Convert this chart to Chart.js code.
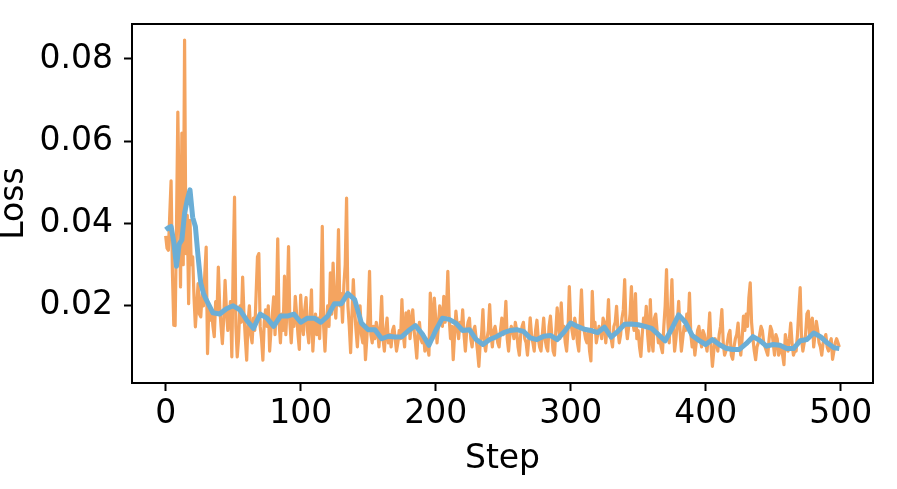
<!DOCTYPE html>
<html>
<head>
<meta charset="utf-8">
<script src="https://cdn.jsdelivr.net/npm/chart.js@4.4.1/dist/chart.umd.min.js"></script>
<style>
  html, body { margin: 0; padding: 0; background: #fff; }
  canvas { display: block; }
</style>
</head>
<body>
<canvas id="loss-chart" width="897" height="489"></canvas>
<script>
// raw loss, one value per step (0..499)
const rawLoss = [
  0.0370, 0.0340, 0.0335, 0.0420, 0.0504, 0.0280, 0.0153, 0.0152, 0.0390, 0.0671, 0.0450, 0.0246, 0.0620, 0.0300, 0.0846, 0.0327, 0.0420, 0.0205, 0.0408, 0.0300,
  0.0319, 0.0220, 0.0149, 0.0200, 0.0254, 0.0180, 0.0173, 0.0230, 0.0200, 0.0280, 0.0343, 0.0084, 0.0200, 0.0165, 0.0190, 0.0150, 0.0125, 0.0210, 0.0180, 0.0294,
  0.0200, 0.0150, 0.0108, 0.0170, 0.0262, 0.0190, 0.0140, 0.0175, 0.0210, 0.0076, 0.0300, 0.0464, 0.0150, 0.0076, 0.0120, 0.0200, 0.0160, 0.0270, 0.0180, 0.0120,
  0.0068, 0.0160, 0.0200, 0.0130, 0.0110, 0.0170, 0.0140, 0.0230, 0.0319, 0.0327, 0.0150, 0.0120, 0.0068, 0.0160, 0.0190, 0.0150, 0.0200, 0.0090, 0.0140, 0.0180,
  0.0222, 0.0130, 0.0200, 0.0363, 0.0160, 0.0110, 0.0180, 0.0140, 0.0272, 0.0130, 0.0200, 0.0344, 0.0160, 0.0110, 0.0170, 0.0150, 0.0223, 0.0180, 0.0130, 0.0094,
  0.0226, 0.0160, 0.0130, 0.0190, 0.0220, 0.0140, 0.0110, 0.0170, 0.0239, 0.0090, 0.0150, 0.0180, 0.0130, 0.0170, 0.0120, 0.0200, 0.0393, 0.0150, 0.0090, 0.0160,
  0.0200, 0.0150, 0.0280, 0.0180, 0.0304, 0.0220, 0.0170, 0.0240, 0.0385, 0.0200, 0.0230, 0.0160, 0.0250, 0.0300, 0.0462, 0.0200, 0.0150, 0.0086, 0.0180, 0.0264,
  0.0190, 0.0140, 0.0100, 0.0160, 0.0200, 0.0130, 0.0110, 0.0150, 0.0069, 0.0120, 0.0180, 0.0284, 0.0130, 0.0110, 0.0150, 0.0120, 0.0160, 0.0140, 0.0100, 0.0150,
  0.0223, 0.0120, 0.0090, 0.0140, 0.0170, 0.0110, 0.0130, 0.0100, 0.0140, 0.0150, 0.0120, 0.0090, 0.0110, 0.0140, 0.0120, 0.0215, 0.0130, 0.0100, 0.0183, 0.0140,
  0.0187, 0.0120, 0.0160, 0.0190, 0.0140, 0.0110, 0.0073, 0.0140, 0.0160, 0.0120, 0.0110, 0.0130, 0.0090, 0.0120, 0.0100, 0.0080, 0.0231, 0.0180, 0.0120, 0.0219,
  0.0170, 0.0110, 0.0150, 0.0200, 0.0180, 0.0150, 0.0223, 0.0160, 0.0190, 0.0284, 0.0170, 0.0120, 0.0150, 0.0069, 0.0130, 0.0187, 0.0150, 0.0120, 0.0160, 0.0140,
  0.0190, 0.0130, 0.0090, 0.0140, 0.0160, 0.0170, 0.0120, 0.0100, 0.0140, 0.0150, 0.0120, 0.0090, 0.0053, 0.0110, 0.0130, 0.0191, 0.0110, 0.0090, 0.0120, 0.0140,
  0.0203, 0.0130, 0.0100, 0.0140, 0.0150, 0.0130, 0.0110, 0.0100, 0.0140, 0.0170, 0.0130, 0.0150, 0.0211, 0.0120, 0.0090, 0.0130, 0.0150, 0.0140, 0.0120, 0.0160,
  0.0140, 0.0100, 0.0080, 0.0130, 0.0150, 0.0160, 0.0120, 0.0110, 0.0080, 0.0120, 0.0171, 0.0130, 0.0110, 0.0090, 0.0140, 0.0165, 0.0120, 0.0100, 0.0090, 0.0130,
  0.0170, 0.0120, 0.0100, 0.0090, 0.0150, 0.0175, 0.0130, 0.0090, 0.0080, 0.0140, 0.0195, 0.0150, 0.0120, 0.0207, 0.0140, 0.0150, 0.0110, 0.0090, 0.0140, 0.0247,
  0.0160, 0.0140, 0.0120, 0.0170, 0.0150, 0.0110, 0.0090, 0.0160, 0.0239, 0.0150, 0.0140, 0.0120, 0.0110, 0.0140, 0.0090, 0.0066, 0.0235, 0.0150, 0.0160, 0.0110,
  0.0130, 0.0150, 0.0140, 0.0120, 0.0170, 0.0160, 0.0110, 0.0150, 0.0215, 0.0130, 0.0120, 0.0100, 0.0150, 0.0160, 0.0199, 0.0140, 0.0110, 0.0130, 0.0170, 0.0190,
  0.0264, 0.0150, 0.0120, 0.0150, 0.0180, 0.0247, 0.0160, 0.0140, 0.0230, 0.0120, 0.0140, 0.0100, 0.0077, 0.0130, 0.0170, 0.0150, 0.0199, 0.0130, 0.0090, 0.0215,
  0.0120, 0.0090, 0.0170, 0.0180, 0.0140, 0.0110, 0.0120, 0.0100, 0.0086, 0.0150, 0.0200, 0.0288, 0.0160, 0.0110, 0.0180, 0.0264, 0.0150, 0.0090, 0.0120, 0.0160,
  0.0211, 0.0140, 0.0090, 0.0120, 0.0150, 0.0140, 0.0180, 0.0150, 0.0231, 0.0130, 0.0100, 0.0120, 0.0080, 0.0110, 0.0140, 0.0150, 0.0120, 0.0100, 0.0140, 0.0130,
  0.0110, 0.0090, 0.0130, 0.0183, 0.0100, 0.0053, 0.0090, 0.0120, 0.0110, 0.0090, 0.0130, 0.0150, 0.0191, 0.0110, 0.0080, 0.0090, 0.0110, 0.0130, 0.0140, 0.0080,
  0.0070, 0.0100, 0.0120, 0.0130, 0.0158, 0.0110, 0.0080, 0.0120, 0.0175, 0.0140, 0.0180, 0.0150, 0.0220, 0.0256, 0.0160, 0.0120, 0.0090, 0.0069, 0.0100, 0.0110,
  0.0130, 0.0150, 0.0140, 0.0110, 0.0100, 0.0090, 0.0080, 0.0120, 0.0150, 0.0140, 0.0110, 0.0080, 0.0130, 0.0120, 0.0080, 0.0090, 0.0100, 0.0080, 0.0057, 0.0130,
  0.0110, 0.0090, 0.0120, 0.0158, 0.0110, 0.0080, 0.0090, 0.0090, 0.0130, 0.0190, 0.0244, 0.0120, 0.0090, 0.0110, 0.0130, 0.0180, 0.0187, 0.0130, 0.0160, 0.0170,
  0.0100, 0.0130, 0.0162, 0.0140, 0.0110, 0.0100, 0.0080, 0.0110, 0.0120, 0.0130, 0.0100, 0.0090, 0.0110, 0.0120, 0.0070, 0.0090, 0.0110, 0.0120, 0.0110, 0.0100
];

// smoothed loss at these steps
const smoothSteps = [
  0, 2, 4, 6, 8, 10, 12, 14, 16, 18, 20, 22, 24, 26, 28, 30,
  35, 40, 45, 50, 55, 60, 65, 70, 75, 80, 85, 90, 95,
  100, 105, 110, 115, 120, 125, 130, 135, 140, 145, 150, 155, 160, 165, 170, 175, 180, 185, 190, 195,
  200, 205, 210, 215, 220, 225, 230, 235, 240, 245, 250, 255, 260, 265, 270, 275, 280, 285, 290, 295,
  300, 305, 310, 315, 320, 325, 330, 335, 340, 345, 350, 355, 360, 365, 370, 375, 380, 385, 390, 395,
  400, 405, 410, 415, 420, 425, 430, 435, 440, 445, 450, 455, 460, 465, 470, 475, 480, 485, 490, 495, 499
];
const smoothLoss = [
  0.0385, 0.0390, 0.0393, 0.0355, 0.0296, 0.0350, 0.0360, 0.0425, 0.0458, 0.0482, 0.0415, 0.0393, 0.0320, 0.0255, 0.0230, 0.0215,
  0.0183, 0.0180, 0.0193, 0.0200, 0.0190, 0.0165, 0.0145, 0.0180, 0.0170, 0.0150, 0.0175, 0.0175, 0.0180,
  0.0160, 0.0170, 0.0170, 0.0160, 0.0175, 0.0205, 0.0205, 0.0230, 0.0215, 0.0158, 0.0142, 0.0142, 0.0120, 0.0126, 0.0124, 0.0125, 0.0140, 0.0152, 0.0132, 0.0104,
  0.0140, 0.0170, 0.0167, 0.0158, 0.0140, 0.0142, 0.0118, 0.0106, 0.0118, 0.0125, 0.0134, 0.0140, 0.0142, 0.0138, 0.0122, 0.0118, 0.0126, 0.0128, 0.0118, 0.0136,
  0.0158, 0.0150, 0.0143, 0.0140, 0.0135, 0.0148, 0.0124, 0.0138, 0.0155, 0.0156, 0.0154, 0.0150, 0.0145, 0.0130, 0.0115, 0.0145, 0.0178, 0.0160, 0.0128, 0.0116,
  0.0106, 0.0118, 0.0106, 0.0097, 0.0094, 0.0094, 0.0108, 0.0125, 0.0116, 0.0102, 0.0106, 0.0104, 0.0096, 0.0096, 0.0115, 0.0118, 0.0134, 0.0125, 0.0110, 0.0098, 0.0096
];

const xTicks = [0, 100, 200, 300, 400, 500];
const yTicks = [0.02, 0.04, 0.06, 0.08];

const FONT = { family: "DejaVu Sans", size: 33 };

// matplotlib style box round the plot
const frame = {
  id: "frame",
  afterDatasetsDraw(chart) {
    const { ctx, chartArea: a } = chart;
    ctx.save();
    ctx.strokeStyle = "#000";
    ctx.lineWidth = 2;
    ctx.strokeRect(a.left, a.top, a.right - a.left, a.bottom - a.top);
    ctx.restore();
  }
};

new Chart(document.getElementById("loss-chart"), {
  type: "line",
  data: {
    datasets: [
      {
        data: smoothLoss.map((v, i) => ({ x: smoothSteps[i], y: v })),
        borderColor: "#6baed6",
        borderWidth: 5,
        pointRadius: 0,
        borderJoinStyle: "round",
        order: 0
      },
      {
        data: rawLoss.map((v, i) => ({ x: i, y: v })),
        borderColor: "#f4a460",
        borderWidth: 3.2,
        pointRadius: 0,
        borderJoinStyle: "round",
        order: 1
      }
    ]
  },
  options: {
    responsive: false,
    animation: false,
    devicePixelRatio: 1,
    layout: { padding: { left: 0, right: 24, top: 24, bottom: 0 } },
    plugins: { legend: { display: false }, tooltip: { enabled: false } },
    scales: {
      x: {
        type: "linear",
        min: -24.95,
        max: 523.95,
        afterBuildTicks: s => { s.ticks = xTicks.map(v => ({ value: v })); },
        afterFit: s => { s.height = 106; s.paddingLeft = 0; s.paddingRight = 0; },
        ticks: { font: FONT, color: "#000", padding: 4, maxRotation: 0, callback: v => String(v) },
        grid: { drawOnChartArea: false, drawTicks: true, tickLength: 8, tickWidth: 2, tickColor: "#000" },
        border: { display: false },
        title: { display: true, text: "Step", color: "#000", font: { ...FONT, lineHeight: 1 }, padding: { top: 0, bottom: 13 } }
      },
      y: {
        type: "linear",
        min: 0.00124,
        max: 0.0885,
        afterBuildTicks: s => { s.ticks = yTicks.map(v => ({ value: v })); },
        afterFit: s => { s.width = 132; s.paddingTop = 0; s.paddingBottom = 0; },
        ticks: { font: FONT, color: "#000", padding: 11, callback: v => v.toFixed(2) },
        grid: { drawOnChartArea: false, drawTicks: true, tickLength: 8, tickWidth: 2, tickColor: "#000" },
        border: { display: false },
        title: { display: true, text: "Loss", color: "#000", font: { ...FONT, lineHeight: 0.9 }, padding: { top: 0, bottom: 0 } }
      }
    }
  },
  plugins: [frame]
});
</script>
</body>
</html>
